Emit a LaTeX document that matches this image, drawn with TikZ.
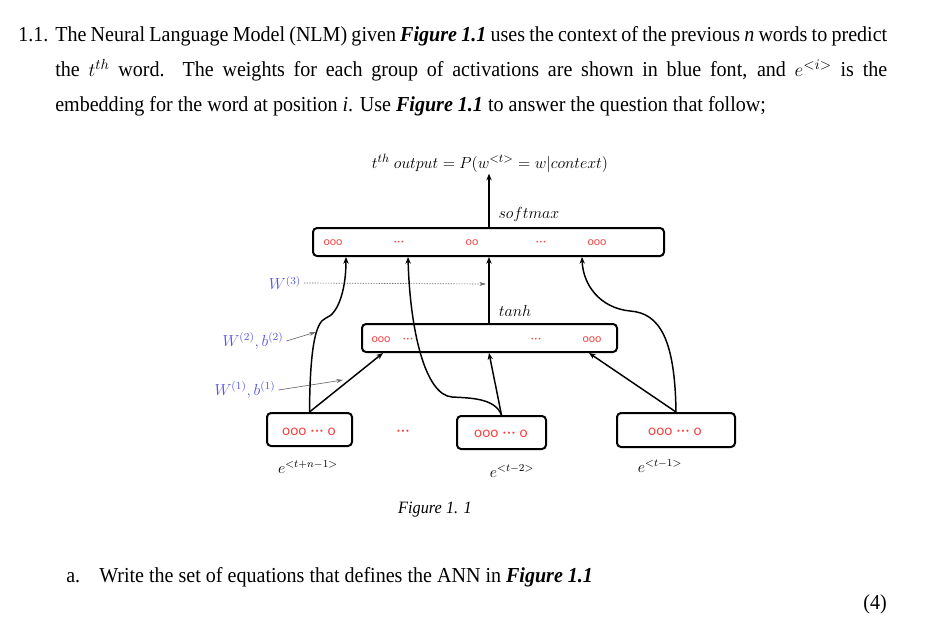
\documentclass[tikz,border=0pt]{standalone}
\usepackage{fontspec}
\setmainfont{Liberation Serif}[FakeStretch=0.94]
\newfontfamily\dotfont{Carlito}
\usetikzlibrary{arrows.meta,fit,calc}
\definecolor{wblue}{RGB}{85,85,230}
\definecolor{dotred}{RGB}{245,70,70}
\definecolor{grayline}{RGB}{110,110,110}
\newcommand{\rdots}{\kern0.5pt·\kern0.5pt·\kern0.5pt·\kern0.5pt}
\begin{document}
\begin{tikzpicture}[x=0.75pt,y={(0,-0.75pt)},
  box/.style={draw, line width=1.5pt, rounded corners=3pt, inner sep=0pt},
  conn/.style={line width=1.1pt, -{Stealth[length=5pt,width=4pt]}},
  wlab/.style={text=wblue, inner sep=0pt, font=\fontsize{12}{14}\selectfont},
  gline/.style={grayline, line width=0.5pt, -{Stealth[length=5pt,width=3pt]}},
  dotsm/.style={text=dotred, inner sep=0pt, font=\dotfont\fontsize{9}{10}\selectfont},
  dotsb/.style={text=dotred, inner sep=0pt, font=\dotfont\fontsize{11.5}{12}\selectfont},
  mlab/.style={inner sep=0pt, font=\fontsize{12}{14}\selectfont},
  body/.style={anchor=base west, inner sep=0pt, font=\fontsize{16}{19}\selectfont},
]
\useasboundingbox (0,0) rectangle (936,629);
\fill[white] (0,0) rectangle (936,629);

% ---- question text ----
\node[body] (num) at (18,41) {1.1.};
\node[body] (line1) at (55,41) {\makebox[624pt][s]{The Neural Language Model (NLM) given \textbf{\textit{Figure 1.1}} uses the context of the previous \textit{n} words to predict}};
\node[body] (line2) at (55,76) {\makebox[624pt][s]{the {\fontsize{15}{17}\selectfont$t^{th}$} word. The weights for each group of activations are shown in blue font, and {\fontsize{15}{17}\selectfont$e^{<i>}$} is the}};
\node[body] (line3) at (55,111) {embedding for the word at position \textit{i}. Use \textbf{\textit{Figure 1.1}} to answer the question that follow;};

% ---- boxes ----
\node[box, fit={(313,228) (664,256)}] (top) {};
\node[box, fit={(362,324) (617,352)}] (mid) {};
\node[box, fit={(267,413) (352,446)}] (b1) {};
\node[box, fit={(457,416) (546,449)}] (b2) {};
\node[box, fit={(617,413) (735,447)}] (b3) {};

% ---- dots in boxes ----
\node[dotsm] (t1) at (333,243) {ooo};
\node[dotsm] (t2) at (399,243) {\rdots};
\node[dotsm] (t3) at (472,243) {oo};
\node[dotsm] (t4) at (541,243) {\rdots};
\node[dotsm] (t5) at (597,243) {ooo};
\node[dotsm] (m1) at (381,340) {ooo};
\node[dotsm] (m2) at (408,340) {\rdots};
\node[dotsm] (m3) at (536,340) {\rdots};
\node[dotsm] (m4) at (592,340) {ooo};
\node[dotsb] (d1) at (309,432) {ooo \rdots{} o};
\node[dotsb] (d2) at (501,434) {ooo \rdots{} o};
\node[dotsb] (d3) at (675,432) {ooo \rdots{} o};
\node[dotsb] (dmid) at (403,433) {\rdots};

% ---- math labels ----
\node[mlab, font=\fontsize{12.5}{14}\selectfont] (out) at (490,163) {$t^{th}\ output = P(w^{<t>} = w|context)$};
\node[mlab] (soft) at (529,214) {$softmax$};
\node[mlab] (tanh) at (515,311) {$tanh$};
\node[mlab] (e1) at (308,467) {$e^{<t+n-1>}$};
\node[mlab] (e2) at (512,471) {$e^{<t-2>}$};
\node[mlab] (e3) at (660,466) {$e^{<t-1>}$};

% ---- weight labels ----
\node[wlab] (w3) at (285,283) {$W^{(3)}$};
\node[wlab] (w2) at (253,341) {$W^{(2)},b^{(2)}$};
\node[wlab] (w1) at (245,390) {$W^{(1)},b^{(1)}$};
\coordinate (w3end) at (486,284);
\coordinate (w2end) at (316,332);
\coordinate (w1end) at (343,380);
\draw[gline, dash pattern=on 1pt off 1pt] ([xshift=2pt]w3.east) -- (w3end);
\draw[gline] ([xshift=2pt]w2.east) -- (w2end);
\draw[gline] ([xshift=2pt]w1.east) -- (w1end);

% ---- connectors ----
\draw[conn] (top.north -| 489,0) -- ([yshift=-1pt]out.south -| 489,0);
\draw[conn] (mid.north -| 489,0) -- (top.south -| 489,0);
\draw[conn] (b1.north) -- (mid.south -| 383,0);
\draw[conn] (b2.north) -- (mid.south -| 489,0);
\draw[conn] (b3.north) -- (mid.south -| 589,0);
\draw[conn] (b1.north) .. controls (310,350) and (315,322) .. (326,318)
   .. controls (338,314) and (346,290) .. (top.south -| 346,0);
\draw[conn] (b2.north) .. controls (495,398) and (470,398) .. (452,397)
   .. controls (425,395) and (410,330) .. (top.south -| 408,0);
\draw[conn] (b3.north) .. controls (675,340) and (660,313) .. (630,311)
   .. controls (600,308) and (583,285) .. (top.south -| 582,0);

% ---- caption and question ----
\node[inner sep=0pt, font=\fontsize{13}{15}\selectfont\itshape] (cap) at (435,510) {Figure 1. 1};
\node[body] (qa) at (66,582) {a.};
\node[body] (qtext) at (99,582) {Write the set of equations that defines the ANN in \textbf{\textit{Figure 1.1}}};
\node[body, anchor=base east] (marks) at (887,609) {(4)};
\end{tikzpicture}
\end{document}
